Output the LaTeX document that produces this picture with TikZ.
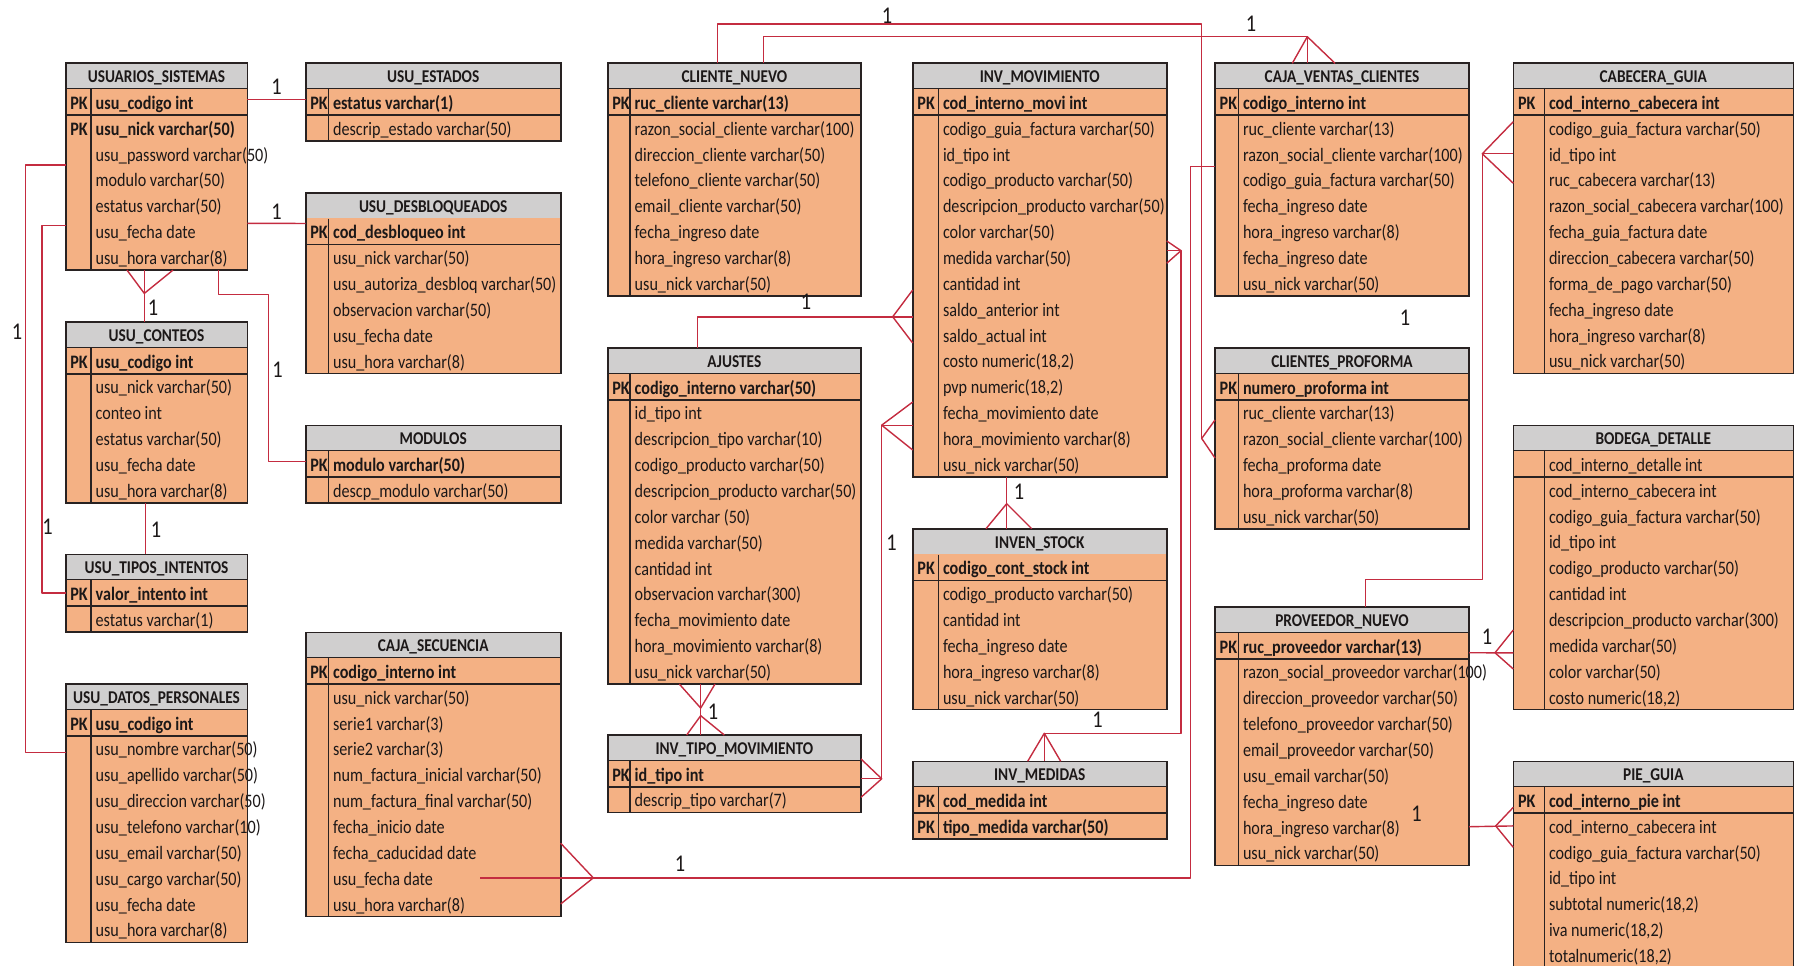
\documentclass[tikz,border=0pt]{standalone}
\usepackage{fontspec}
\setmainfont{Carlito}[FakeStretch=0.85]
\usetikzlibrary{calc}

\definecolor{grisTitulo}{RGB}{208,207,207}
\definecolor{naranja}{RGB}{244,177,132}
\definecolor{borde}{RGB}{40,34,34}
\definecolor{rojo}{RGB}{196,44,64}
\definecolor{letra}{RGB}{28,24,24}

\newcommand{\rh}{25.85}
\def\nfilas{0}

% tabla: nombre, esquina, ancho, ancho columna PK, titulo, filas (k = clave, n = normal)
\newcommand{\tabla}[6]{%
  \node[cabecera, minimum width=#3pt] (#1-t) at (#2) {#5};
  \foreach \tipo/\campo [count=\i] in {#6} {%
    \node[fila, minimum width=#3pt] (#1-\i) at ($(#2)+(0,\i*\rh)$) {};
    \if\tipo k\def\peso{\bfseries}\else\def\peso{}\fi
    \node[campo] (#1-\i-c) at ([xshift=#4pt+4.5pt, yshift=-7.3pt]#1-\i.west) {\peso\campo};
    \if\tipo k\node[campo] (#1-\i-k) at ([xshift=4.5pt, yshift=-7.3pt]#1-\i.west) {\bfseries PK};\fi
    \xdef\nfilas{\i}
  }
  \draw[marco] (#2) rectangle ($(#2)+(#3,{(\nfilas+1)*\rh})$);
  \draw[marco] ($(#2)+(0,2*\rh)$) -- ++(#3,0);
  \draw[marco] ($(#2)+(#4,\rh)$) -- ($(#2)+(#4,{(\nfilas+1)*\rh})$);
}

\begin{document}
\begin{tikzpicture}[x=1pt, y=-1pt,
  cabecera/.style={anchor=north west, draw=borde, line width=1.6pt, fill=grisTitulo, minimum height=\rh pt, inner sep=0pt, outer sep=0pt, text height=13.5pt, text depth=0pt, text=letra, font=\fontsize{18}{20}\selectfont\bfseries},
  fila/.style={anchor=north west, fill=naranja, draw=naranja, line width=0.4pt, minimum height=\rh pt, inner sep=0pt, outer sep=0pt},
  campo/.style={anchor=base west, inner sep=0pt, text=letra, font=\fontsize{19}{22}\selectfont},
  marco/.style={draw=borde, line width=1.6pt},
  rel/.style={draw=rojo, line width=1.4pt, line join=round},
  uno/.style={inner sep=0pt, text=letra, font=\fontsize{24}{26}\selectfont}]

\useasboundingbox[fill=white] (0,0) rectangle (1800,966);

% usuarios
\tabla{usis}{65.7,63.3}{181.6}{25.3}{USUARIOS\_SISTEMAS}{k/usu\_codigo int, k/usu\_nick varchar(50), n/usu\_password varchar(50), n/modulo varchar(50), n/estatus varchar(50), n/usu\_fecha date, n/usu\_hora varchar(8)}
\tabla{uest}{305.7,63.3}{255}{22.7}{USU\_ESTADOS}{k/estatus varchar(1), n/descrip\_estado varchar(50)}
\tabla{udes}{305.7,192.7}{255}{22.7}{USU\_DESBLOQUEADOS}{k/cod\_desbloqueo int, n/usu\_nick varchar(50), n/usu\_autoriza\_desbloq varchar(50), n/observacion varchar(50), n/usu\_fecha date, n/usu\_hora varchar(8)}
\tabla{ucon}{65.7,322}{181.6}{25.3}{USU\_CONTEOS}{k/usu\_codigo int, n/usu\_nick varchar(50), n/conteo int, n/estatus varchar(50), n/usu\_fecha date, n/usu\_hora varchar(8)}
\tabla{umod}{305.7,425.3}{255}{22.7}{MODULOS}{k/modulo varchar(50), n/descp\_modulo varchar(50)}
\tabla{utip}{65.7,554.3}{181.6}{25.3}{USU\_TIPOS\_INTENTOS}{k/valor\_intento int, n/estatus varchar(1)}
\tabla{udat}{65.7,684}{181.6}{25.3}{USU\_DATOS\_PERSONALES}{k/usu\_codigo int, n/usu\_nombre varchar(50), n/usu\_apellido varchar(50), n/usu\_direccion varchar(50), n/usu\_telefono varchar(10), n/usu\_email varchar(50), n/usu\_cargo varchar(50), n/usu\_fecha date, n/usu\_hora varchar(8)}
\tabla{csec}{305.7,632.3}{255}{22.7}{CAJA\_SECUENCIA}{k/codigo\_interno int, n/usu\_nick varchar(50), n/serie1 varchar(3), n/serie2 varchar(3), n/num\_factura\_inicial varchar(50), n/num\_factura\_final varchar(50), n/fecha\_inicio date, n/fecha\_caducidad date, n/usu\_fecha date, n/usu\_hora varchar(8)}

% clientes, ajustes, inventario
\tabla{cnue}{607.7,63.3}{253.3}{22.3}{CLIENTE\_NUEVO}{k/ruc\_cliente varchar(13), n/razon\_social\_cliente varchar(100), n/direccion\_cliente varchar(50), n/telefono\_cliente varchar(50), n/email\_cliente varchar(50), n/fecha\_ingreso date, n/hora\_ingreso varchar(8), n/usu\_nick varchar(50)}
\tabla{ajus}{607.7,348}{253.3}{22.3}{AJUSTES}{k/codigo\_interno varchar(50), n/id\_tipo int, n/descripcion\_tipo varchar(10), n/codigo\_producto varchar(50), n/descripcion\_producto varchar(50), n/color varchar (50), n/medida varchar(50), n/cantidad int, n/observacion varchar(300), n/fecha\_movimiento date, n/hora\_movimiento varchar(8), n/usu\_nick varchar(50)}
\tabla{itip}{607.7,735}{253.3}{22.3}{INV\_TIPO\_MOVIMIENTO}{k/id\_tipo int, n/descrip\_tipo varchar(7)}
\tabla{imov}{912.7,63.3}{254}{25.6}{INV\_MOVIMIENTO}{k/cod\_interno\_movi int, n/codigo\_guia\_factura varchar(50), n/id\_tipo int, n/codigo\_producto varchar(50), n/descripcion\_producto varchar(50), n/color varchar(50), n/medida varchar(50), n/cantidad int, n/saldo\_anterior int, n/saldo\_actual int, n/{costo numeric(18,2)}, n/{pvp numeric(18,2)}, n/fecha\_movimiento date, n/hora\_movimiento varchar(8), n/usu\_nick varchar(50)}
\tabla{istk}{912.7,528.7}{254}{25.6}{INVEN\_STOCK}{k/codigo\_cont\_stock int, n/codigo\_producto varchar(50), n/cantidad int, n/fecha\_ingreso date, n/hora\_ingreso varchar(8), n/usu\_nick varchar(50)}
\tabla{imed}{912.7,761.3}{254}{25.6}{INV\_MEDIDAS}{k/cod\_medida int, k/tipo\_medida varchar(50)}

% ventas, proveedores, guias
\tabla{cven}{1215,63.3}{254}{23.3}{CAJA\_VENTAS\_CLIENTES}{k/codigo\_interno int, n/ruc\_cliente varchar(13), n/razon\_social\_cliente varchar(100), n/codigo\_guia\_factura varchar(50), n/fecha\_ingreso date, n/hora\_ingreso varchar(8), n/fecha\_ingreso date, n/usu\_nick varchar(50)}
\tabla{cpro}{1215,348}{254}{23.3}{CLIENTES\_PROFORMA}{k/numero\_proforma int, n/ruc\_cliente varchar(13), n/razon\_social\_cliente varchar(100), n/fecha\_proforma date, n/hora\_proforma varchar(8), n/usu\_nick varchar(50)}
\tabla{pnue}{1215,607}{254}{23.3}{PROVEEDOR\_NUEVO}{k/ruc\_proveedor varchar(13), n/razon\_social\_proveedor varchar(100), n/direccion\_proveedor varchar(50), n/telefono\_proveedor varchar(50), n/email\_proveedor varchar(50), n/usu\_email varchar(50), n/fecha\_ingreso date, n/hora\_ingreso varchar(8), n/usu\_nick varchar(50)}
\tabla{cgui}{1513.3,63.3}{280}{31}{CABECERA\_GUIA}{k/cod\_interno\_cabecera int, n/codigo\_guia\_factura varchar(50), n/id\_tipo int, n/ruc\_cabecera varchar(13), n/razon\_social\_cabecera varchar(100), n/fecha\_guia\_factura date, n/direccion\_cabecera varchar(50), n/forma\_de\_pago varchar(50), n/fecha\_ingreso date, n/hora\_ingreso varchar(8), n/usu\_nick varchar(50)}
\tabla{bdet}{1513.3,425.3}{280}{31}{BODEGA\_DETALLE}{n/cod\_interno\_detalle int, n/cod\_interno\_cabecera int, n/codigo\_guia\_factura varchar(50), n/id\_tipo int, n/codigo\_producto varchar(50), n/cantidad int, n/descripcion\_producto varchar(300), n/medida varchar(50), n/color varchar(50), n/{costo numeric(18,2)}}
\tabla{pgui}{1513.3,761.3}{280}{31}{PIE\_GUIA}{k/cod\_interno\_pie int, n/cod\_interno\_cabecera int, n/codigo\_guia\_factura varchar(50), n/id\_tipo int, n/{subtotal numeric(18,2)}, n/{iva numeric(18,2)}, n/{totalnumeric(18,2)}}

% relaciones de usuarios
\draw[rel] ([yshift=2.8pt]usis-1.east) -- ([yshift=2.8pt]uest-1.west) node[uno, midway, above=4pt] (r1) {1};
\draw[rel] ([yshift=8pt]usis-6.east) -- ([yshift=8pt]udes-1.west) node[uno, midway, above=3pt] (r2) {1};
\draw[rel] ([yshift=-11.2pt]usis-3.west) -- ++(-40,0) |- ([yshift=-3.7pt]udat-2.west);
\node[uno] (r3) at (17,331.5) {1};
\draw[rel] ([yshift=5.6pt]usis-6.west) -- ++(-23.7,0) |- (utip-1.west);
\node[uno] (r4) at (47.5,526.5) {1};
\draw[rel] ([xshift=78.6pt]usis-7.south west) -- ([xshift=78.6pt]ucon-t.north west);
\draw[rel] ([xshift=61.3pt]usis-7.south west) -- ([xshift=78.6pt, yshift=-23.3pt]usis-7.south west) -- ([xshift=107.3pt]usis-7.south west);
\node[uno] (r5) at (153,307.5) {1};
\draw[rel] ([xshift=152.6pt]usis-7.south west) |- ++(50,24.2) |- ([yshift=2.8pt]umod-1.west);
\node[uno] (r6) at (277.5,369.5) {1};
\draw[rel] ([xshift=80pt]ucon-6.south west) -- ([xshift=80pt]utip-t.north west);
\node[uno] (r7) at (156,529.5) {1};

% caja secuencia con caja ventas
\draw[rel] ([xshift=174.3pt]csec-9.west) -| ([xshift=-24.3pt]cven-3.south west) -- (cven-3.south west);
\draw[rel] ([yshift=34.6pt]csec-9.east) -- ([xshift=32.6pt]csec-9.east) -- ([yshift=-26.1pt]csec-9.east);
\node[uno] (r8) at (680,864) {1};

% cliente nuevo
\draw[rel] ([xshift=110pt]cnue-t.north west) -- ++(0,-39.3) -| ([xshift=-13.3pt]cpro-3.west);
\draw[rel] ([yshift=18.5pt]cpro-3.west) -- ([xshift=-13.3pt]cpro-3.west) -- ([yshift=-19.5pt]cpro-3.west);
\node[uno] (r9) at (887,15.5) {1};
\draw[rel] ([xshift=155.6pt]cnue-t.north west) |- ([xshift=92.3pt, yshift=26.6pt]cven-t.north west) -- ([xshift=92.3pt]cven-t.north west);
\draw[rel] ([xshift=77.3pt]cven-t.north west) -- ([xshift=92.3pt, yshift=26.6pt]cven-t.north west) -- ([xshift=120pt]cven-t.north west);
\node[uno] (r10) at (1251,23.5) {1};

% inventario
\draw[rel] ([xshift=90pt]ajus-t.north west) |- ([yshift=5pt]imov-9.south west);
\draw[rel] ([yshift=31.8pt]imov-9.south west) -- ([xshift=-20pt, yshift=5pt]imov-9.south west) -- ([yshift=-21.2pt]imov-9.south west);
\node[uno] (r11) at (806,301.5) {1};
\draw[rel] ([yshift=-5pt]itip-1.east) -- ++(20.7,0) |- (imov-13.south west);
\draw[rel] ([yshift=14.8pt]itip-1.east) -- ([xshift=20.7pt, yshift=-5pt]itip-1.east) -- ([yshift=-23.5pt]itip-1.east);
\draw[rel] ([yshift=23.2pt]imov-13.south west) -- ([xshift=-31pt]imov-13.south west) -- ([yshift=-24.8pt]imov-13.south west);
\node[uno] (r12) at (891.5,542.5) {1};
\draw[rel] ([xshift=93pt]ajus-12.south west) -- ([xshift=93pt]itip-t.north west);
\draw[rel] ([xshift=71.6pt]ajus-12.south west) -- ([xshift=93pt, yshift=-24pt]ajus-12.south west) -- ([xshift=107.3pt]ajus-12.south west);
\draw[rel] ([xshift=79pt]itip-t.north west) -- ([xshift=93pt, yshift=19.3pt]itip-t.north west) -- ([xshift=116.6pt]itip-t.north west);
\node[uno] (r13) at (713,711.5) {1};
\draw[rel] ([xshift=94pt]imov-15.south west) -- ([xshift=94pt]istk-t.north west);
\draw[rel] ([xshift=73.3pt]istk-t.north west) -- ([xshift=94pt, yshift=25pt]istk-t.north west) -- ([xshift=119pt]istk-t.north west);
\node[uno] (r14) at (1019,491.5) {1};
\draw[rel] ([yshift=6.5pt]imov-7.east) -- ++(14.3,0) |- ([xshift=131.6pt, yshift=28pt]imed-t.north west) -- ([xshift=131.6pt]imed-t.north west);
\draw[rel] ([yshift=16.2pt]imov-7.east) -- ([xshift=14.3pt, yshift=6.5pt]imov-7.east) -- ([yshift=-6.1pt]imov-7.east);
\draw[rel] ([xshift=115pt]imed-t.north west) -- ([xshift=131.6pt, yshift=28pt]imed-t.north west) -- ([xshift=148pt]imed-t.north west);
\node[uno] (r15) at (1097.5,719.5) {1};

% proveedor y guias
\draw[rel] ([xshift=150.7pt]pnue-t.north west) |- ++(116.6,-27.7) -- ([xshift=-31pt]cgui-3.west) -- (cgui-3.west);
\draw[rel] ([yshift=32.1pt]cgui-3.west) -- ([xshift=-31pt]cgui-3.west) -- ([yshift=-29.5pt]cgui-3.west);
\node[uno] (r16) at (1405,318) {1};
\draw[rel] ([yshift=-7pt]pnue-1.east) -- ([yshift=-7.8pt]bdet-8.west);
\draw[rel] ([xshift=44.3pt, yshift=15.8pt]pnue-1.east) -- ([xshift=26pt, yshift=-7pt]pnue-1.east) -- ([xshift=44.3pt, yshift=-23.2pt]pnue-1.east);
\node[uno] (r17) at (1487,637) {1};
\draw[rel] (pnue-8.east) -- (pgui-2.west);
\draw[rel] ([yshift=18.6pt]pgui-2.west) -- ([xshift=-17.6pt]pgui-2.west) -- ([yshift=-21.4pt]pgui-2.west);
\node[uno] (r18) at (1416.5,814) {1};

\end{tikzpicture}
\end{document}
